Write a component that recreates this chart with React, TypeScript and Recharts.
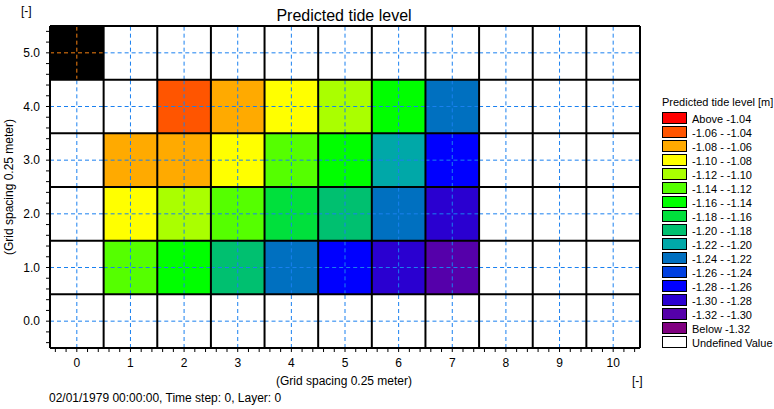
import { ComposedChart, XAxis, YAxis, Scatter, ReferenceArea, ReferenceLine } from "recharts";

// grid columns / rows (cell centres, grid index units)
const columns = [0, 1, 2, 3, 4, 5, 6, 7, 8, 9, 10];
const rows = [0, 1, 2, 3, 4, 5];

// predicted tide level per row [m], null = undefined value
const levelRow0 = [null, null, null, null, null, null, null, null, null, null, null];
const levelRow1 = [null, -1.13, -1.15, -1.19, -1.23, -1.27, -1.29, -1.31, null, null, null];
const levelRow2 = [null, -1.09, -1.11, -1.13, -1.17, -1.19, -1.23, -1.29, null, null, null];
const levelRow3 = [null, -1.07, -1.07, -1.09, -1.13, -1.15, -1.21, -1.27, null, null, null];
const levelRow4 = [null, null, -1.05, -1.07, -1.09, -1.11, -1.15, -1.23, null, null, null];
const levelRow5 = [null, null, null, null, null, null, null, null, null, null, null];
const levelRows = [levelRow0, levelRow1, levelRow2, levelRow3, levelRow4, levelRow5];

// cells drawn black in the original (masked)
const maskedCells = [{ x: 0, y: 5 }];

// legend classes
const legendLabels = [
  "Above -1.04",
  "-1.06 - -1.04",
  "-1.08 - -1.06",
  "-1.10 - -1.08",
  "-1.12 - -1.10",
  "-1.14 - -1.12",
  "-1.16 - -1.14",
  "-1.18 - -1.16",
  "-1.20 - -1.18",
  "-1.22 - -1.20",
  "-1.24 - -1.22",
  "-1.26 - -1.24",
  "-1.28 - -1.26",
  "-1.30 - -1.28",
  "-1.32 - -1.30",
  "Below -1.32",
];
const legendUpper = [Infinity, -1.04, -1.06, -1.08, -1.1, -1.12, -1.14, -1.16, -1.18, -1.2, -1.22, -1.24, -1.26, -1.28, -1.3, -1.32];
const legendColors = [
  "#ff0000",
  "#ff5500",
  "#ffaa00",
  "#ffff00",
  "#aaff00",
  "#55ff00",
  "#00ff00",
  "#00e03c",
  "#00c070",
  "#00a8a8",
  "#0070c0",
  "#0040e0",
  "#0000ff",
  "#2a00d0",
  "#5500aa",
  "#800080",
];

const FONT = "'Liberation Sans', Arial, sans-serif";
const GRID_BLUE = "#1a80f0";
const GRID_ORANGE = "#f58010";

function colorFor(v: number | null) {
  if (v === null) return "#ffffff";
  let idx = 0;
  for (let i = 0; i < legendUpper.length; i++) {
    if (v < legendUpper[i]) idx = i;
  }
  return legendColors[idx];
}

const minorX = Array.from({ length: 55 }, (_, i) => Math.round((-0.4 + i * 0.2) * 10) / 10);
const minorY = Array.from({ length: 30 }, (_, i) => Math.round((-0.4 + i * 0.2) * 10) / 10);

const isWhole = (v: number) => Math.abs(v - Math.round(v)) < 1e-6;

const cells = rows.flatMap((r) =>
  columns.map((c) => ({
    x: c,
    y: r,
    fill: maskedCells.some((m) => m.x === c && m.y === r) ? "#000000" : colorFor(levelRows[r][c]),
  }))
);

const isMasked = (x: number, y: number) => maskedCells.some((m) => m.x === x && m.y === y);

export default function App() {
  return (
    <div style={{ position: "absolute", left: 0, top: 0, width: 774, height: 409, background: "#fff", fontFamily: FONT }}>
      <ComposedChart
        width={774}
        height={409}
        margin={{ top: 26, right: 134, bottom: 0, left: 0 }}
        style={{ fontFamily: FONT }}
      >
        <XAxis
          type="number"
          dataKey="x"
          domain={[-0.5, 10.5]}
          ticks={minorX}
          interval={0}
          allowDataOverflow
          height={61}
          tickSize={4}
          tickMargin={6}
          stroke="#000"
          tick={{ fill: "#000", fontSize: 12 }}
          tickFormatter={(v) => (isWhole(Number(v)) ? String(Math.round(Number(v))) : "")}
        />
        <YAxis
          type="number"
          dataKey="y"
          domain={[-0.5, 5.5]}
          ticks={minorY}
          interval={0}
          allowDataOverflow
          width={50}
          tickSize={4}
          tickMargin={6}
          stroke="#000"
          tick={{ fill: "#000", fontSize: 12 }}
          tickFormatter={(v) => (isWhole(Number(v)) ? Number(v).toFixed(1) : "")}
        />
        {cells.map((c) => (
          <ReferenceArea
            key={`cell-${c.x}-${c.y}`}
            x1={c.x - 0.5}
            x2={c.x + 0.5}
            y1={c.y - 0.5}
            y2={c.y + 0.5}
            fill={c.fill}
            fillOpacity={1}
            stroke="none"
          />
        ))}
        {columns.flatMap((c) =>
          rows.map((r) => (
            <ReferenceLine
              key={`vx-${c}-${r}`}
              segment={[{ x: c, y: r - 0.5 }, { x: c, y: r + 0.5 }]}
              stroke={isMasked(c, r) ? GRID_ORANGE : GRID_BLUE}
              strokeDasharray="4 3"
              strokeWidth={1}
            />
          ))
        )}
        {rows.flatMap((r) =>
          columns.map((c) => (
            <ReferenceLine
              key={`hy-${r}-${c}`}
              segment={[{ x: c - 0.5, y: r }, { x: c + 0.5, y: r }]}
              stroke={isMasked(c, r) ? GRID_ORANGE : GRID_BLUE}
              strokeDasharray="4 3"
              strokeWidth={1}
            />
          ))
        )}
        {[...columns.map((c) => c - 0.5), 10.5].map((x) => (
          <ReferenceLine key={`bx-${x}`} x={x} stroke="#000" strokeWidth={2} />
        ))}
        {[...rows.map((r) => r - 0.5), 5.5].map((y) => (
          <ReferenceLine key={`by-${y}`} y={y} stroke="#000" strokeWidth={2} />
        ))}
        <Scatter data={cells} dataKey="y" isAnimationActive={false} shape={() => <g />} />
      </ComposedChart>
      <svg
        width={774}
        height={409}
        style={{ position: "absolute", left: 0, top: 0, pointerEvents: "none", fontFamily: FONT }}
      >
        <text x={21} y={15} fontSize={12} fill="#000">[-]</text>
        <text x={344} y={21} fontSize={16} fill="#000" textAnchor="middle">Predicted tide level</text>
        <text x={13} y={187} fontSize={12} fill="#000" textAnchor="middle" transform="rotate(-90 13 187)">
          (Grid spacing 0.25 meter)
        </text>
        <text x={344} y={385} fontSize={12} fill="#000" textAnchor="middle">(Grid spacing 0.25 meter)</text>
        <text x={632} y={385} fontSize={12} fill="#000">[-]</text>
        <text x={49} y={402} fontSize={12} fill="#000">02/01/1979 00:00:00, Time step: 0, Layer: 0</text>
        <text x={662} y={106} fontSize={11} fill="#000">Predicted tide level [m]</text>
        {[...legendLabels, "Undefined Value"].map((label, i) => (
          <g key={label}>
            <rect
              x={662.5}
              y={112.5 + i * 14}
              width={24}
              height={11}
              fill={i < legendColors.length ? legendColors[i] : "#ffffff"}
              stroke="#000"
              strokeWidth={1}
            />
            <text x={692} y={123 + i * 14} fontSize={11} fill="#000">{label}</text>
          </g>
        ))}
      </svg>
    </div>
  );
}
